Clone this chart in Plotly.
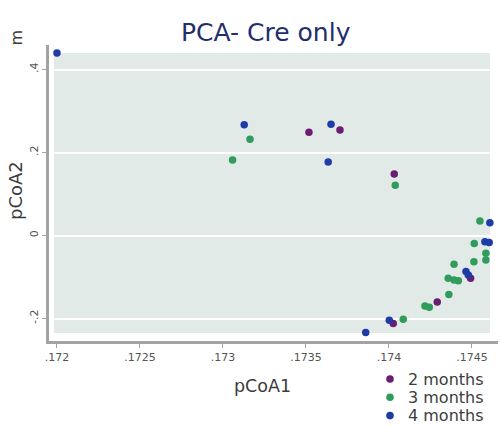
import plotly.graph_objects as go

# PCoA sample coordinates by age group
m2_x = [0.173518, 0.173705, 0.174032, 0.174492, 0.174291, 0.174026]
m2_y = [0.249, 0.254, 0.148, -0.103, -0.160, -0.212]

m3_x = [0.173163, 0.173058, 0.174038, 0.174548, 0.174514, 0.174584, 0.174584,
        0.174512, 0.174392, 0.174357, 0.174392, 0.174418, 0.174361, 0.174217,
        0.174243, 0.174086]
m3_y = [0.232, 0.182, 0.121, 0.035, -0.019, -0.043, -0.059, -0.063, -0.069,
        -0.103, -0.107, -0.109, -0.142, -0.170, -0.173, -0.202]

m4_x = [0.172, 0.173128, 0.173651, 0.173634, 0.174608, 0.174578, 0.174604,
        0.174464, 0.174478, 0.174002, 0.17386]
m4_y = [0.44, 0.267, 0.268, 0.177, 0.031, -0.015, -0.017, -0.087, -0.095,
        -0.204, -0.234]

groups = ["2 months", "3 months", "4 months"]
colors = ["#6b1d72", "#2f9c5c", "#1d3ca8"]

x_ticks = [0.172, 0.1725, 0.173, 0.1735, 0.174, 0.1745]
x_labels = [".172", ".1725", ".173", ".1735", ".174", ".1745"]
y_ticks = [-0.2, 0, 0.2, 0.4]
y_labels = ["-.2", "0", ".2", ".4"]

FONT = "DejaVu Sans"
AXIS_GREY = "#a3a3a3"
TEXT_GREY = "#3c3c3c"

# plot area in pixels (left, top, width, height)
PL, PT, PW, PH = 49, 45, 449, 296


def px(x):
    return (x - PL) / PW


def py(y):
    return 1 - (y - PT) / PH


fig = go.Figure()
for name, xs, ys, c in zip(groups, [m2_x, m3_x, m4_x], [m2_y, m3_y, m4_y], colors):
    fig.add_trace(go.Scatter(
        x=xs, y=ys, mode="markers", name=name, showlegend=False,
        cliponaxis=False,
        marker=dict(size=7.5, color=c, line=dict(width=0)),
    ))

# plot-region background, inset from the axis lines
fig.add_shape(type="rect", xref="paper", yref="paper",
              x0=px(54), x1=px(490), y0=py(333), y1=py(53),
              fillcolor="#e2eae8", line=dict(width=0), layer="below")

# manual legend
leg_rows = [379, 397.3, 415.6]
for name, c, ry in zip(groups, colors, leg_rows):
    fig.add_shape(type="circle", xref="paper", yref="paper",
                  xsizemode="pixel", ysizemode="pixel",
                  xanchor=px(390), yanchor=py(ry),
                  x0=-3.8, x1=3.8, y0=-3.8, y1=3.8,
                  fillcolor=c, line=dict(width=0))
    fig.add_annotation(text=name, xref="paper", yref="paper",
                       x=px(407), y=py(ry), xanchor="left", yanchor="middle",
                       showarrow=False, borderpad=0,
                       font=dict(family=FONT, size=16, color=TEXT_GREY))

# title and axis titles
fig.add_annotation(text="PCA- Cre only", xref="paper", yref="paper",
                   x=px(266), y=py(33),
                   xanchor="center", yanchor="middle", showarrow=False,
                   font=dict(family=FONT, size=25, color="#1f2e6c"))
fig.add_annotation(text="pCoA1", xref="paper", yref="paper",
                   x=px(262), y=py(386),
                   xanchor="center", yanchor="middle", showarrow=False,
                   font=dict(family=FONT, size=17.5, color=TEXT_GREY))
fig.add_annotation(text="pCoA2", xref="paper", yref="paper",
                   x=px(15), y=py(191),
                   xanchor="center", yanchor="middle", showarrow=False,
                   textangle=-90,
                   font=dict(family=FONT, size=18, color=TEXT_GREY))
fig.add_annotation(text="m", xref="paper", yref="paper",
                   x=px(16.5), y=py(38),
                   xanchor="center", yanchor="middle", showarrow=False,
                   textangle=-90,
                   font=dict(family=FONT, size=16, color=TEXT_GREY))

fig.update_layout(
    width=502, height=426,
    margin=dict(l=PL, r=502 - PL - PW, t=PT, b=426 - PT - PH),
    paper_bgcolor="white", plot_bgcolor="white",
    font=dict(family=FONT, size=11, color="#555555"),
    xaxis=dict(range=[0.171952, 0.174657], tickvals=x_ticks, ticktext=x_labels,
               showgrid=False, zeroline=False,
               showline=True, linecolor=AXIS_GREY, linewidth=2.5,
               ticks="outside", ticklen=4, tickcolor=AXIS_GREY, tickwidth=1,
               tickfont=dict(family=FONT, size=11, color="#555555")),
    yaxis=dict(range=[-0.25422, 0.45904], tickvals=y_ticks, ticktext=y_labels,
               tickangle=-90,
               showgrid=True, gridcolor="white", gridwidth=1.5, zeroline=False,
               showline=True, linecolor=AXIS_GREY, linewidth=2.5,
               ticks="outside", ticklen=4, tickcolor=AXIS_GREY, tickwidth=1,
               tickfont=dict(family=FONT, size=11, color="#555555")),
)

fig.write_html("out.html")
